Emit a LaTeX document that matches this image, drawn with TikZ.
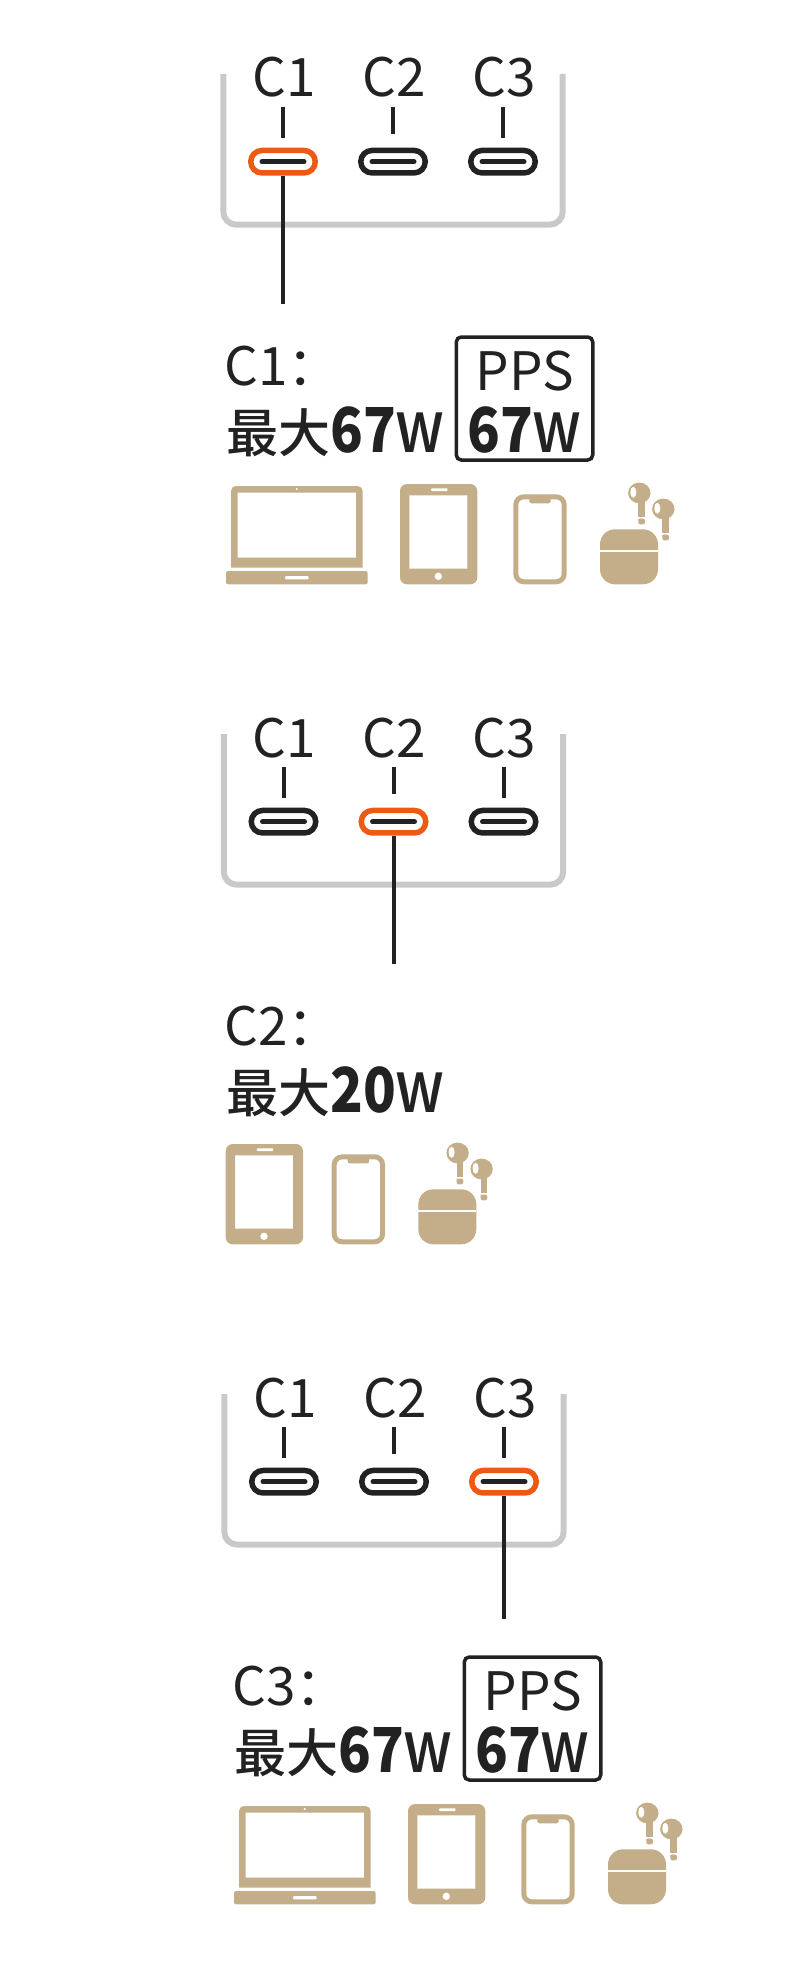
\documentclass[tikz,border=0pt]{standalone}
\usepackage{fontspec}
\usepackage{graphicx}
\setmainfont{Noto Sans CJK SC}
\newfontfamily\medfont{Noto Sans CJK SC Medium}
\usetikzlibrary{positioning}
\definecolor{ink}{HTML}{222222}
\definecolor{hot}{HTML}{EE5A14}
\definecolor{traygray}{HTML}{C8C9CB}
\definecolor{gold}{HTML}{C3AE89}
\newcommand{\watt}[1]{{\bfseries\fontsize{62}{62}\selectfont\scalebox{.87}[1]{#1}}{\medfont\mdseries\fontsize{72}{62}\selectfont\scalebox{.82}[1]{w}}}
\tikzset {
  % tray that holds the three ports
  tray/.style={draw=traygray, line width=6pt, rounded corners=13pt},
  % port outlines, with the bar inside them
  port/.style={draw=ink, line width=5.5pt, rounded corners=11.25pt, minimum width=64.5pt, minimum height=22.5pt, inner sep=0pt,
    path picture={\draw[ink, line width=5pt, line cap=round, sharp corners] ([xshift=-21pt]path picture bounding box.center) -- ([xshift=21pt]path picture bounding box.center);}},
  porton/.style={port, draw=hot},
  % texts
  portname/.style={anchor=base, inner sep=0pt, text=ink, font=\fontsize{53}{53}\selectfont, execute at begin node={\hspace*{2pt}}},
  head/.style={anchor=base west, inner sep=0pt, text=ink, font=\fontsize{53}{53}\selectfont},
  maxw/.style={anchor=base west, inner sep=0pt, text=ink, font=\fontsize{52}{52}\selectfont\medfont},
  ppsbox/.style={draw=ink, line width=3.5pt, rounded corners=5pt, minimum width=136.5pt, minimum height=123pt, inner sep=0pt,
    align=center, text=ink, font=\fontsize{53}{62}\selectfont},
  % lines from the names to the ports and out of the tray
  lead/.style={draw=ink, line width=4pt},
  icon/.style={fill=gold, draw=none},
  % device icons, from their top left corner
  laptop/.pic={
    \fill[icon, even odd rule] (5,81.7) [rounded corners=5pt] -- (5,0) -- (136.7,0) [sharp corners] -- (136.7,81.7) -- cycle (11.7,6.7) rectangle (130,71.7);
    \fill[white] (70.7,3) circle (1.2);
    \fill[icon, rounded corners=2pt] (0,85) rectangle (141.7,98.3);
    \fill[white, rounded corners=1pt] (59,90) rectangle (82.7,93.3);
  },
  tablet/.pic={
    \fill[icon, even odd rule, rounded corners=7pt] (0,0) rectangle (77.3,100.3) [sharp corners] (9.3,11.3) rectangle (67.3,84.7);
    \fill[white, rounded corners=1pt] (31,4.3) rectangle (47.7,7);
    \fill[white] (38.3,92.3) circle (3.7);
  },
  phone/.pic={
    \draw[gold, line width=5pt, rounded corners=8pt] (2.5,2.5) rectangle (50.9,87.5);
    \fill[icon, rounded corners=2pt] (16,1) rectangle (37.4,9);
  },
  bud/.pic={
    \fill[icon] (39.3,11) ellipse (11.2 and 10.4);
    \fill[icon] (38.3,11) rectangle (45,34.7);
    \fill[icon, rounded corners=2pt] (38.3,36.7) -- (38.3,42.3) -- (45,42.3) -- (45,36.7) [sharp corners] -- cycle;
    \fill[white] (33.3,10.3) ellipse (3 and 5.5);
  },
  buds/.pic={
    \pic at (0,0) {bud};
    \pic at (24,16) {bud};
    \fill[icon, rounded corners=15pt] (0,47.3) rectangle (58,102.3);
    \fill[white] (0,67.7) rectangle (58,69.7);
  },
}
\begin{document}
\begin{tikzpicture}[x=1pt, y=-1pt]
  \useasboundingbox (0,0) rectangle (785,1964);

  \begin{scope}
    \draw[tray] (223.3,74) -- (223.3,224.7) -- (562.7,224.7) -- (562.7,74);
    \node[portname] (l1) at (283,97) {C1};
    \node[portname] (l2) at (393,97) {C2};
    \node[portname] (l3) at (503,97) {C3};
    \node[porton] (p1) at (283,161.7) {};
    \node[port] (p2) at (393,161.7) {};
    \node[port] (p3) at (503,161.7) {};
    \coordinate (e) at (283,304);

    \draw[lead, shorten <=9pt, shorten >=10pt] (l1) -- (p1);
    \draw[lead, shorten <=9pt, shorten >=14pt] (l2) -- (p2);
    \draw[lead, shorten <=9pt, shorten >=10pt] (l3) -- (p3);
    \draw[lead] (p1) -- (e);

    \node[head] (h) at (224.5,385) {C1：};
    \node[maxw] (m) at (226,452) {最大\watt{67}};
    \node[ppsbox] (b) at (524.5,398.5) {\rule{0pt}{46pt}PPS\\\watt{67}};

    \pic at (226,486) {laptop};
    \pic at (400,484) {tablet};
    \pic at (513.3,494.3) {phone};
    \pic at (600,482) {buds};
  \end{scope}

  \begin{scope}[shift={(0.5,660)}]
    \draw[tray] (223.3,74) -- (223.3,224.7) -- (562.7,224.7) -- (562.7,74);
    \node[portname] (l1) at (283,97) {C1};
    \node[portname] (l2) at (393,97) {C2};
    \node[portname] (l3) at (503,97) {C3};
    \node[port] (p1) at (283,161.7) {};
    \node[porton] (p2) at (393,161.7) {};
    \node[port] (p3) at (503,161.7) {};
    \coordinate (e) at (393,304);

    \draw[lead, shorten <=9pt, shorten >=10pt] (l1) -- (p1);
    \draw[lead, shorten <=9pt, shorten >=14pt] (l2) -- (p2);
    \draw[lead, shorten <=9pt, shorten >=10pt] (l3) -- (p3);
    \draw[lead] (p2) -- (e);

    \node[head] (h) at (224,385) {C2：};
    \node[maxw] (m) at (225.5,452) {最大\watt{20}};

    \pic at (225.2,484) {tablet};
    \pic at (331.2,494.3) {phone};
    \pic at (417.8,482) {buds};
  \end{scope}

  \begin{scope}[shift={(1,1320)}]
    \draw[tray] (223.3,74) -- (223.3,224.7) -- (562.7,224.7) -- (562.7,74);
    \node[portname] (l1) at (283,97) {C1};
    \node[portname] (l2) at (393,97) {C2};
    \node[portname] (l3) at (503,97) {C3};
    \node[port] (p1) at (283,161.7) {};
    \node[port] (p2) at (393,161.7) {};
    \node[porton] (p3) at (503,161.7) {};
    \coordinate (e) at (503,299);

    \draw[lead, shorten <=9pt, shorten >=10pt] (l1) -- (p1);
    \draw[lead, shorten <=9pt, shorten >=14pt] (l2) -- (p2);
    \draw[lead, shorten <=9pt, shorten >=10pt] (l3) -- (p3);
    \draw[lead] (p3) -- (e);

    \node[head] (h) at (231.5,385) {C3：};
    \node[maxw] (m) at (233,452) {最大\watt{67}};
    \node[ppsbox] (b) at (531.5,398.5) {\rule{0pt}{46pt}PPS\\\watt{67}};

    \pic at (233,486) {laptop};
    \pic at (407,484) {tablet};
    \pic at (520.3,494.3) {phone};
    \pic at (607,482) {buds};
  \end{scope}
\end{tikzpicture}
\end{document}
